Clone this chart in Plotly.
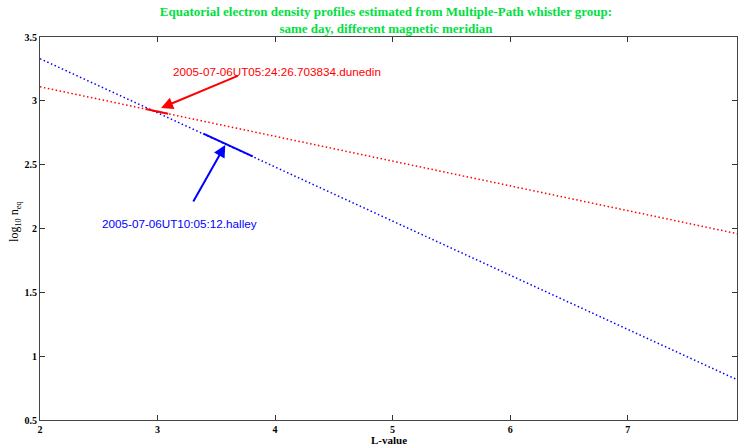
import plotly.graph_objects as go

# Data
L_fit = [2, 3, 4, 5, 6, 7, 8]
dunedin_fit = [3.11, 2.916, 2.722, 2.528, 2.334, 2.14, 1.946]
halley_fit = [3.33, 2.906, 2.482, 2.058, 1.634, 1.21, 0.786]

L_dunedin_obs = [2.90, 3.09]
dunedin_obs = [2.9354, 2.8986]
L_halley_obs = [3.39, 3.81]
halley_obs = [2.7426, 2.5645]

label_dunedin = "2005-07-06UT05:24:26.703834.dunedin"
label_halley = "2005-07-06UT10:05:12.halley"

x_ticks = [2, 3, 4, 5, 6, 7]
x_tick_labels = ["2", "3", "4", "5", "6", "7"]
y_ticks = [0.5, 1, 1.5, 2, 2.5, 3, 3.5]
y_tick_labels = ["0.5", "1", "1.5", "2", "2.5", "3", "3.5"]

RED = "#ff0000"
BLUE = "#0000ff"
GREEN = "#00e040"
SERIF = "Liberation Serif, Times New Roman, serif"
SANS = "Liberation Sans, Arial, sans-serif"
DOT = "1.5px,2.5px"

fig = go.Figure()
fig.add_trace(go.Scatter(x=L_fit, y=dunedin_fit, mode="lines",
                         line=dict(color=RED, width=1.5, dash=DOT), showlegend=False))
fig.add_trace(go.Scatter(x=L_fit, y=halley_fit, mode="lines",
                         line=dict(color=BLUE, width=1.5, dash=DOT), showlegend=False))
fig.add_trace(go.Scatter(x=L_dunedin_obs, y=dunedin_obs, mode="lines",
                         line=dict(color=RED, width=2), showlegend=False))
fig.add_trace(go.Scatter(x=L_halley_obs, y=halley_obs, mode="lines",
                         line=dict(color=BLUE, width=2), showlegend=False))

# arrows
fig.add_annotation(x=3.03, y=2.944, ax=3.695, ay=3.20, xref="x", yref="y", axref="x", ayref="y",
                   showarrow=True, arrowhead=2, arrowsize=1.2, arrowwidth=2, arrowcolor=RED, text="")
fig.add_annotation(x=3.576, y=2.654, ax=3.297, ay=2.20, xref="x", yref="y", axref="x", ayref="y",
                   showarrow=True, arrowhead=2, arrowsize=1.2, arrowwidth=2, arrowcolor=BLUE, text="")
# labels
fig.add_annotation(x=(278 - 40) / 118 + 2, y=3.5 - (72 - 37) / 127.7, xref="x", yref="y",
                   text=label_dunedin, showarrow=False,
                   font=dict(family=SANS, size=11.7, color=RED), xanchor="center", yanchor="middle")
fig.add_annotation(x=(180 - 40) / 118 + 2, y=3.5 - (224 - 37) / 127.7, xref="x", yref="y",
                   text=label_halley, showarrow=False,
                   font=dict(family=SANS, size=11.7, color=BLUE), xanchor="center", yanchor="middle")

# axis titles
fig.add_annotation(x=0.5, y=0, xref="paper", yref="paper", yshift=-20, showarrow=False,
                   xanchor="center", yanchor="middle", text="<b>L-value</b>",
                   font=dict(family=SERIF, size=11, color="black"))
fig.add_annotation(x=0, y=3.5 - (222 - 37) / 127.7, xref="paper", yref="y", xshift=-25, showarrow=False,
                   xanchor="center", yanchor="middle", textangle=-90,
                   text="log<sub>10</sub> n<sub>eq</sub>",
                   font=dict(family=SERIF, size=12, color="black"))

fig.update_layout(
    width=738, height=447,
    margin=dict(l=40, r=1, t=37, b=27, autoexpand=False),
    paper_bgcolor="white", plot_bgcolor="white",
    title=dict(text="<b>Equatorial electron density profiles estimated from Multiple-Path whistler group:<br>same day, different magnetic meridian</b>",
               xref="container", yref="container", x=386 / 738, xanchor="center",
               y=(447 - 16) / 447, yanchor="middle",
               font=dict(family=SERIF, size=13, color=GREEN)),
    xaxis=dict(range=[2, 7.93], tickvals=x_ticks, ticktext=["<b>%s</b>" % t for t in x_tick_labels],
               ticks="inside", ticklen=5, tickcolor="#333",
               showline=True, linecolor="#444", linewidth=1, mirror="ticks", showgrid=False, zeroline=False,
               automargin=False,
               tickfont=dict(family=SERIF, size=10, color="black")),
    yaxis=dict(range=[0.5, 3.5], tickvals=y_ticks, ticktext=["<b>%s</b>" % t for t in y_tick_labels],
               ticks="inside", ticklen=5, tickcolor="#333", automargin=False,
               showline=True, linecolor="#444", linewidth=1, mirror="ticks", showgrid=False, zeroline=False,
               tickfont=dict(family=SERIF, size=10, color="black")),
)

fig.write_html("out.html", config={"displayModeBar": False},
               post_script="document.body.style.margin='0px';document.body.style.overflow='hidden';")
